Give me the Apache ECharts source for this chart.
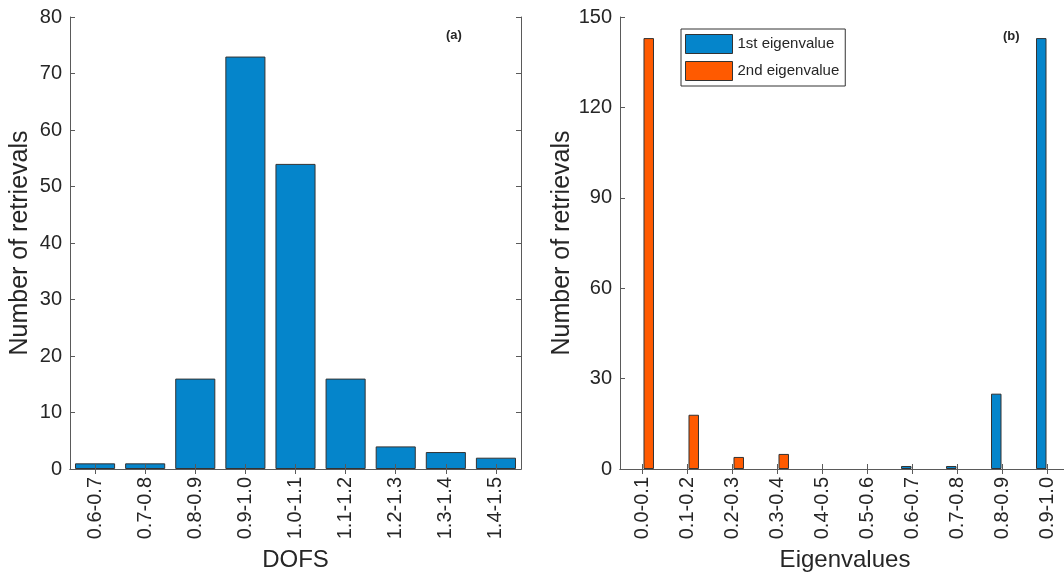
<!DOCTYPE html>
<html>
<head>
<meta charset="utf-8">
<script src="https://cdn.jsdelivr.net/npm/echarts@6/dist/echarts.min.js"></script>
<style>
  html, body { margin: 0; padding: 0; background: #fff; }
  #chart { width: 1064px; height: 577px; }
</style>
</head>
<body>
<div id="chart"></div>
<script>
// Panel (a): DOFS histogram
const dofsBins = ['0.6-0.7', '0.7-0.8', '0.8-0.9', '0.9-1.0', '1.0-1.1', '1.1-1.2', '1.2-1.3', '1.3-1.4', '1.4-1.5'];
const dofsCounts = [1, 1, 16, 73, 54, 16, 4, 3, 2];
const dofsTicks = [0, 10, 20, 30, 40, 50, 60, 70, 80];

// Panel (b): eigenvalue histograms
const eigBins = ['0.0-0.1', '0.1-0.2', '0.2-0.3', '0.3-0.4', '0.4-0.5', '0.5-0.6', '0.6-0.7', '0.7-0.8', '0.8-0.9', '0.9-1.0'];
const firstEig = [0, 0, 0, 0, 0, 0, 1, 1, 25, 143];
const secondEig = [143, 18, 4, 5, 0, 0, 0, 0, 0, 0];
const eigTicks = [0, 30, 60, 90, 120, 150];

const FONT = 'Liberation Sans, Arial, Helvetica, sans-serif';
const AXIS_GRAY = '#5a5a5a';
const TEXT = '#262626';
const BLUE = '#0585cb';
const ORANGE = '#ff5a00';
const EDGE = '#333333';

const chart = echarts.init(document.getElementById('chart'), null, { renderer: 'canvas' });

// empty bins keep their zero value but draw no outline along the baseline
function barData(values) {
  return values.map(v => v === 0 ? { value: v, itemStyle: { borderWidth: 0 } } : v);
}

function catAxis(grid, data, position, name, showLabel) {
  return {
    type: 'category', gridIndex: grid, data: data, position: position, z: 5,
    boundaryGap: true,
    axisLine: { show: true, lineStyle: { color: AXIS_GRAY, width: 1 } },
    axisTick: { show: true, inside: true, alignWithLabel: true, length: 5, lineStyle: { color: AXIS_GRAY } },
    axisLabel: { show: showLabel, rotate: 90, fontSize: 20, margin: 8, color: TEXT, fontFamily: FONT },
    splitLine: { show: false },
    name: name, nameLocation: 'middle', nameGap: 79,
    nameTextStyle: { fontSize: 24, color: TEXT, fontFamily: FONT }
  };
}

function valAxis(grid, max, interval, position, name, showLabel) {
  return {
    type: 'value', gridIndex: grid, min: 0, max: max, interval: interval, position: position, z: 5,
    axisLine: { show: true, lineStyle: { color: AXIS_GRAY, width: 1 } },
    axisTick: { show: true, inside: true, length: 5, lineStyle: { color: AXIS_GRAY } },
    axisLabel: { show: showLabel, fontSize: 20, margin: 8, color: TEXT, fontFamily: FONT },
    splitLine: { show: false },
    name: name, nameLocation: 'middle', nameGap: 37,
    nameTextStyle: { fontSize: 25, color: TEXT, fontFamily: FONT }
  };
}

const option = {
  backgroundColor: '#ffffff',
  animation: false,
  textStyle: { fontFamily: FONT },
  grid: [
    { left: 70, top: 17, width: 451, height: 452, outerBoundsMode: 'none', containLabel: false },
    { left: 620, top: 17, width: 450, height: 452, outerBoundsMode: 'none', containLabel: false }
  ],
  xAxis: [
    catAxis(0, dofsBins, 'bottom', 'DOFS', true),
    catAxis(0, dofsBins, 'top', '', false),
    catAxis(1, eigBins, 'bottom', 'Eigenvalues', true),
    catAxis(1, eigBins, 'top', '', false)
  ],
  yAxis: [
    valAxis(0, dofsTicks[dofsTicks.length - 1], dofsTicks[1] - dofsTicks[0], 'left', 'Number of retrievals', true),
    valAxis(0, dofsTicks[dofsTicks.length - 1], dofsTicks[1] - dofsTicks[0], 'right', '', false),
    valAxis(1, eigTicks[eigTicks.length - 1], eigTicks[1] - eigTicks[0], 'left', 'Number of retrievals', true),
    valAxis(1, eigTicks[eigTicks.length - 1], eigTicks[1] - eigTicks[0], 'right', '', false)
  ],
  legend: {
    data: ['1st eigenvalue', '2nd eigenvalue'],
    orient: 'vertical',
    left: 681, top: 29,
    padding: [5, 6, 5, 4],
    itemWidth: 47, itemHeight: 19, itemGap: 7,
    borderColor: '#333', borderWidth: 1,
    backgroundColor: '#fff',
    icon: 'rect',
    selectedMode: false,
    textStyle: { fontSize: 15, color: TEXT, fontFamily: FONT, padding: [0, 0, 0, 0] },
    itemStyle: { borderColor: EDGE, borderWidth: 1 }
  },
  graphic: [
    { type: 'text', left: 446, top: 29, style: { text: '(a)', font: 'bold 13px ' + FONT, fill: TEXT } },
    { type: 'text', left: 1003, top: 30, style: { text: '(b)', font: 'bold 13px ' + FONT, fill: TEXT } }
  ],
  series: [
    {
      name: 'DOFS', type: 'bar', xAxisIndex: 0, yAxisIndex: 0, data: barData(dofsCounts),
      barCategoryGap: '20%',
      itemStyle: { color: BLUE, borderColor: EDGE, borderWidth: 1 }
    },
    {
      name: '1st eigenvalue', type: 'bar', xAxisIndex: 2, yAxisIndex: 2, data: barData(firstEig),
      barWidth: 10.5, barGap: '19%',
      itemStyle: { color: BLUE, borderColor: EDGE, borderWidth: 1 }
    },
    {
      name: '2nd eigenvalue', type: 'bar', xAxisIndex: 2, yAxisIndex: 2, data: barData(secondEig),
      barWidth: 10.5, barGap: '19%',
      itemStyle: { color: ORANGE, borderColor: EDGE, borderWidth: 1 }
    }
  ]
};

chart.setOption(option);
</script>
</body>
</html>
